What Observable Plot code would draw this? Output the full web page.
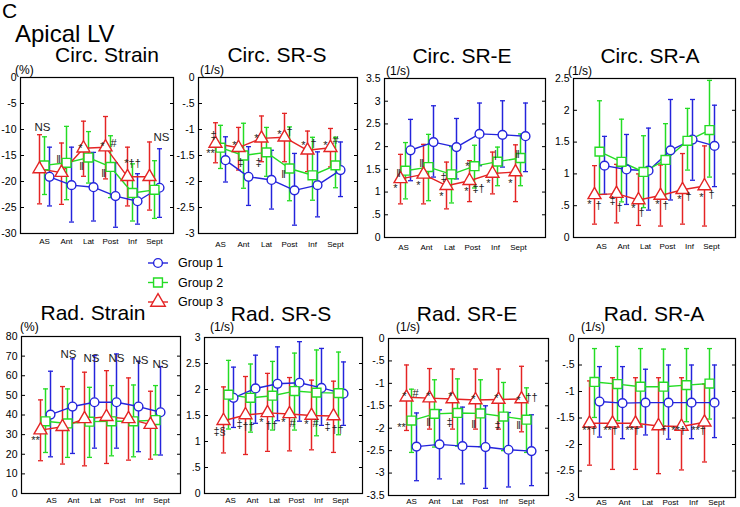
<!DOCTYPE html>
<html><head><meta charset="utf-8">
<script src="https://cdn.jsdelivr.net/npm/d3@7"></script>
<script src="https://cdn.jsdelivr.net/npm/@observablehq/plot@0.6"></script>
<style>
body{margin:0;background:#fff;}
#wrap{position:relative;width:740px;height:507px;overflow:hidden;font-family:Arial,"Liberation Sans",sans-serif;background:#fff;}
.t{position:absolute;white-space:nowrap;color:#000;}
#wrap svg{position:absolute;}
</style></head><body><div id="wrap"></div>
<script>
// ---------- categories ----------
const segments = ["AS","Ant","Lat","Post","Inf","Sept"];
const groups = ["Group 1","Group 2","Group 3"];

// ---------- Circ. Strain (%) rows: Group1, Group2, Group3 ----------
const circStrainMean  = [[-19.1,-20.7,-21.1,-22.8,-23.8,-21.2],[-16.9,-16.4,-15.4,-17.2,-22.2,-21.6],[-17.6,-18.3,-13.6,-13.4,-19.1,-19.1]];
const circStrainUpper = [[-13.4,-13.4,-14.4,-16.4,-18.5,-13.7],[-11.4,-9.4,-10.4,-11.2,-16.6,-16.0],[-11.0,-12.6,-8.4,-7.5,-13.4,-12.4]];
const circStrainLower = [[-24.7,-27.8,-27.6,-28.8,-28.2,-26.9],[-22.5,-23.5,-20.3,-23.1,-27.6,-27.1],[-24.3,-24.4,-19.0,-19.5,-24.7,-25.5]];
const circStrainTicks = [0,-5,-10,-15,-20,-25,-30];
const circStrainNotes = [["AS",-9.6,"NS"],["Ant",-15.8,"‖"],["Lat",-13.1,"*"],["Lat",-17.2,"‖"],["Post",-12.6,"*"],["Post",-12.6,"#"],["Post",-18.5,"‖"],["Inf",-16.6,"*††"],["Sept",-11.5,"NS"]];

// ---------- Circ. SR-S (1/s) ----------
const circSRSMean  = [[-1.59,-1.91,-1.97,-2.17,-2.07,-1.78],[-1.35,-1.50,-1.44,-1.75,-1.88,-1.69],[-1.27,-1.35,-1.17,-1.15,-1.40,-1.35]];
const circSRSUpper = [[-1.14,-1.33,-1.40,-1.46,-1.43,-1.24],[-0.92,-0.88,-0.96,-0.95,-1.15,-1.15],[-0.87,-0.96,-0.74,-0.69,-1.03,-0.98]];
const circSRSLower = [[-2.01,-2.46,-2.53,-2.84,-2.68,-2.29],[-1.75,-2.13,-1.90,-2.37,-2.36,-2.12],[-1.64,-1.78,-1.62,-1.62,-1.81,-1.72]];
const circSRSTicks = [0,-0.5,-1,-1.5,-2,-2.5,-3];
const circSRSNotes = [["AS",-1.11,"‡"],["AS",-1.40,"**"],["Ant",-1.24,"*"],["Ant",-1.63,"‡"],["Lat",-1.11,"*"],["Lat",-1.64,"‡"],["Post",-1.03,"*"],["Post",-1.03,"†"],["Post",-1.86,"‖"],["Inf",-1.24,"*"],["Inf",-1.27,"†"],["Sept",-1.25,"*"],["Sept",-1.22,"#"]];

// ---------- Circ. SR-E (1/s) ----------
const circSREMean  = [[1.92,2.10,1.99,2.28,2.26,2.23],[1.47,1.55,1.39,1.57,1.67,1.75],[1.29,1.39,1.14,1.25,1.41,1.44]];
const circSREUpper = [[2.60,2.90,2.62,2.96,3.01,2.96],[2.09,2.27,2.00,2.03,1.99,2.28],[1.83,2.05,1.66,1.69,1.88,2.04]];
const circSRELower = [[1.25,1.33,1.29,1.58,1.55,1.45],[0.85,0.81,0.76,1.09,1.14,1.14],[0.74,0.74,0.63,0.79,0.96,0.79]];
const circSRETicks = [0,0.5,1,1.5,2,2.5,3,3.5];
const circSRENotes = [["AS",1.40,"‖"],["AS",1.14,"*"],["Ant",1.62,"‖"],["Ant",1.22,"*"],["Lat",1.33,"‡"],["Lat",0.97,"*"],["Post",1.62,"*"],["Post",1.09,"*"],["Post",1.07,"‡†"],["Inf",1.25,"*"],["Inf",1.82,"|"],["Sept",1.25,"*"],["Sept",1.83,"‖"]];

// ---------- Circ. SR-A (1/s) ----------
const circSRAMean  = [[1.13,1.07,1.05,1.37,1.54,1.44],[1.35,1.19,1.03,1.22,1.52,1.69],[0.67,0.69,0.59,0.66,0.75,0.81]];
const circSRAUpper = [[1.59,1.62,1.72,2.17,2.17,2.08],[2.15,1.86,1.60,1.79,2.03,2.47],[1.13,1.15,1.00,1.14,1.32,1.44]];
const circSRALower = [[0.68,0.52,0.43,0.59,0.90,0.80],[0.68,0.56,0.47,0.60,1.06,0.95],[0.21,0.23,0.19,0.18,0.21,0.18]];
const circSRATicks = [0,0.5,1,1.5,2,2.5];
const circSRANotes = [["AS",0.56,"*"],["AS",0.51,"†"],["Ant",0.59,"‡"],["Ant",0.48,"†"],["Lat",0.51,"*"],["Lat",0.40,"†"],["Post",0.56,"*"],["Post",0.51,"†"],["Inf",0.64,"*"],["Inf",0.64,"†"],["Sept",0.68,"*"],["Sept",0.67,"†"]];

// ---------- Rad. Strain (%) ----------
const radStrainMean  = [[40.2,44.3,46.5,46.5,44.3,41.4],[36.8,35.7,36.6,36.8,36.8,37.4],[32.3,34.0,38.0,39.1,38.0,35.1]];
const radStrainUpper = [[62.3,68.6,70.3,71.1,67.4,64.7],[53.3,53.3,54.1,55.0,55.3,55.0],[47.7,54.5,61.8,62.6,58.9,52.1]];
const radStrainLower = [[18.7,20.4,23.1,23.1,21.3,19.6],[20.9,18.4,18.4,19.2,18.7,19.7],[16.7,15.0,14.1,15.3,17.0,17.5]];
const radStrainTicks = [0,10,20,30,40,50,60,70,80];
const radStrainNotes = [["AS",28.6,"**"],["Ant",71.1,"NS"],["Lat",69.1,"NS"],["Post",69.1,"NS"],["Inf",67.7,"NS"],["Sept",66.0,"NS"]];

// ---------- Rad. SR-S (1/s) ----------
const radSRSMean  = [[1.84,2.02,2.11,2.13,2.03,1.92],[1.90,1.84,1.88,1.97,1.94,1.93],[1.40,1.51,1.55,1.53,1.50,1.49]];
const radSRSUpper = [[2.43,2.66,2.82,2.92,2.79,2.53],[2.56,2.49,2.54,2.70,2.76,2.72],[2.05,2.25,2.31,2.23,2.18,2.16]];
const radSRSLower = [[1.27,1.35,1.40,1.39,1.31,1.31],[1.24,1.18,1.22,1.22,1.11,1.13],[0.78,0.75,0.81,0.82,0.84,0.79]];
const radSRSTicks = [0,0.5,1,1.5,2,2.5,3];
const radSRSNotes = [["AS",1.19,"‡§"],["Ant",1.32,"‡"],["Ant",1.29,"††"],["Lat",1.42,"*"],["Lat",1.31,"††"],["Post",1.42,"*"],["Post",1.34,"#"],["Inf",1.38,"*"],["Inf",1.34,"#"],["Sept",1.29,"‡"],["Sept",1.24,"††"]];

// ---------- Rad. SR-E (1/s) ----------
const radSREMean  = [[-2.41,-2.36,-2.40,-2.42,-2.48,-2.51],[-1.83,-1.68,-1.66,-1.67,-1.74,-1.81],[-1.31,-1.33,-1.35,-1.37,-1.36,-1.35]];
const radSREUpper = [[-1.66,-1.59,-1.53,-1.50,-1.65,-1.70],[-1.13,-0.92,-0.90,-0.92,-0.98,-1.10],[-0.59,-0.67,-0.68,-0.68,-0.68,-0.62]];
const radSRELower = [[-3.17,-3.13,-3.24,-3.34,-3.31,-3.28],[-2.54,-2.42,-2.40,-2.41,-2.50,-2.54],[-2.05,-2.02,-2.02,-2.02,-2.02,-2.08]];
const radSRETicks = [0,-0.5,-1,-1.5,-2,-2.5,-3,-3.5];
const radSRENotes = [["AS",-1.22,"*"],["AS",-1.22,"#"],["AS",-1.91,"**"],["Ant",-1.22,"*"],["Ant",-1.87,"‖"],["Lat",-1.22,"*"],["Lat",-1.87,"‡"],["Post",-1.30,"*"],["Post",-1.91,"‖"],["Inf",-1.27,"*"],["Inf",-1.94,"‡"],["Sept",-1.31,"*"],["Sept",-1.31,"††"],["Sept",-1.94,"‖"]];

// ---------- Rad. SR-A (1/s) ----------
const radSRAMean  = [[-1.19,-1.22,-1.21,-1.21,-1.21,-1.21],[-0.82,-0.86,-0.91,-0.91,-0.88,-0.85],[-1.60,-1.60,-1.60,-1.65,-1.66,-1.58]];
const radSRAUpper = [[-0.53,-0.53,-0.58,-0.50,-0.50,-0.50],[-0.19,-0.15,-0.19,-0.20,-0.19,-0.19],[-0.80,-0.74,-0.74,-0.74,-0.74,-0.86]];
const radSRALower = [[-1.86,-1.89,-1.82,-1.90,-1.89,-1.87],[-1.49,-1.55,-1.65,-1.65,-1.57,-1.52],[-2.39,-2.47,-2.47,-2.55,-2.48,-2.33]];
const radSRATicks = [0,-0.5,-1,-1.5,-2,-2.5,-3];
const radSRANotes = [["AS",-1.74,"**†"],["Ant",-1.74,"**†"],["Lat",-1.74,"**†"],["Post",-1.74,"†"],["Inf",-1.74,"**†"],["Sept",-1.74,"**†"]];

// ---------- panel contents ----------
const panels = [
  {title:"Circ. Strain", unit:"(%)",   domain:[-30,0], ticks:circStrainTicks, mean:circStrainMean, upper:circStrainUpper, lower:circStrainLower, notes:circStrainNotes},
  {title:"Circ. SR-S",   unit:"(1/s)", domain:[-3,0],  ticks:circSRSTicks,    mean:circSRSMean,    upper:circSRSUpper,    lower:circSRSLower,    notes:circSRSNotes},
  {title:"Circ. SR-E",   unit:"(1/s)", domain:[0,3.5], ticks:circSRETicks,    mean:circSREMean,    upper:circSREUpper,    lower:circSRELower,    notes:circSRENotes},
  {title:"Circ. SR-A",   unit:"(1/s)", domain:[0,2.5], ticks:circSRATicks,    mean:circSRAMean,    upper:circSRAUpper,    lower:circSRALower,    notes:circSRANotes},
  {title:"Rad. Strain",  unit:"(%)",   domain:[0,80],  ticks:radStrainTicks,  mean:radStrainMean,  upper:radStrainUpper,  lower:radStrainLower,  notes:radStrainNotes},
  {title:"Rad. SR-S",    unit:"(1/s)", domain:[0,3],   ticks:radSRSTicks,     mean:radSRSMean,     upper:radSRSUpper,     lower:radSRSLower,     notes:radSRSNotes},
  {title:"Rad. SR-E",    unit:"(1/s)", domain:[-3.5,0],ticks:radSRETicks,     mean:radSREMean,     upper:radSREUpper,     lower:radSRELower,     notes:radSRENotes},
  {title:"Rad. SR-A",    unit:"(1/s)", domain:[-3,0],  ticks:radSRATicks,     mean:radSRAMean,     upper:radSRAUpper,     lower:radSRALower,     notes:radSRANotes}
];

// ---------- layout (pixels) ----------
const layout = [
  {frame:[20,173,77,233],  insetL:22, insetR:18, labelDx:0,  labelPad:5, titleX:107, titleY:47,  unitX:15,  unitY:66},
  {frame:[198,357,77,233], insetL:22, insetR:22, labelDx:0,  labelPad:8, titleX:277, titleY:47,  unitX:200, unitY:66},
  {frame:[384,545,78,237], insetL:21, insetR:25, labelDx:-2, labelPad:7, titleX:462, titleY:48,  unitX:386, unitY:67},
  {frame:[573,735,78,237], insetL:24, insetR:24, labelDx:2,  labelPad:6, titleX:650, titleY:48,  unitX:568, unitY:67},
  {frame:[21,180,336,493], insetL:22, insetR:23, labelDx:6,  labelPad:4, titleX:93,  titleY:305, unitX:20,  unitY:323},
  {frame:[204,362,337,493],insetL:22, insetR:22, labelDx:2,  labelPad:4, titleX:281, titleY:306, unitX:210, unitY:323},
  {frame:[388,548,338,495],insetL:22, insetR:22, labelDx:0,  labelPad:3, titleX:467, titleY:306, unitX:396, unitY:323},
  {frame:[578,735,338,497],insetL:15, insetR:26, labelDx:7,  labelPad:2, titleX:654, titleY:306, unitX:581, unitY:323}
];
const noteNudges = [
  [-2,-8,-8,-7,-8,3,-7,0,7],
  [-7,-10,-9,-3,-10,-8,-10,0,-6,-9,1,-10,0],
  [-7,-10,-7,-10,-8,-10,-7,-8,4,-9,-2,-10,-3],
  [-10,-1,-9,-2,-10,-2,-8,0,-8,1,-8,2],
  [-10,1,2,5,7,5],
  [-9,-11,-2,-11,-1,-11,-2,-10,-1,-11,-1],
  [-7,4,-10,-6,-6,-7,-8,-7,-7,-7,-6,-8,5,-8],
  [-5,-7,-8,0,-8,-11]
];

const colors = ["#2424dc", "#24dc24", "#e42424"];
const symbols = ["circle", "square", "triangle"];
const radii = [4.4, 5.0, 4.8];
const dodge = [5, 0, -5];
const FONT = "Arial, 'Liberation Sans', sans-serif";
// small horizontal cap used at the ends of error bars
const capSymbol = {draw(ctx, size) { const w = 2.5; ctx.moveTo(-w, 0); ctx.lineTo(w, 0); }};

const wrap = document.getElementById("wrap");
function addText(txt, x, capTop, size, center) {
  const d = document.createElement("div");
  d.className = "t";
  d.textContent = txt;
  d.style.fontSize = size + "px";
  d.style.lineHeight = size + "px";
  d.style.left = x + "px";
  d.style.top = (capTop - 0.13 * size) + "px";
  if (center) d.style.transform = "translateX(-50%)";
  wrap.appendChild(d);
}

const fmt = v => v === 0 ? "0" : String(+v.toFixed(2)).replace(/^(-?)0\./, "$1.");

addText("C", 2, 3, 21);
addText("Apical LV", 15, 25, 24);

panels.forEach((p, k) => {
  const L = layout[k];
  const [l, r, t, b] = L.frame;
  const mL = 34, mR = 8, mT = 8, mB = 14;
  const rows = [];
  for (let g = 0; g < 3; g++)
    for (let i = 0; i < segments.length; i++)
      rows.push({seg: segments[i], g, mean: p.mean[g][i], hi: p.upper[g][i], lo: p.lower[g][i]});

  const marks = [];
  for (let g = 0; g < 3; g++) {
    const d = rows.filter(o => o.g === g);
    marks.push(Plot.ruleX(d, {x: "seg", y1: "lo", y2: "hi", stroke: colors[g], strokeWidth: 1.5, dx: dodge[g]}));
    marks.push(Plot.dot(d, {x: "seg", y: "lo", symbol: capSymbol, stroke: colors[g], strokeWidth: 1.3, dx: dodge[g]}));
    marks.push(Plot.dot(d, {x: "seg", y: "hi", symbol: capSymbol, stroke: colors[g], strokeWidth: 1.3, dx: dodge[g]}));
  }
  for (let g = 0; g < 3; g++) {
    const d = rows.filter(o => o.g === g);
    marks.push(Plot.line(d, {x: "seg", y: "mean", stroke: colors[g], strokeWidth: 1.4, dx: dodge[g]}));
  }
  for (let g = 0; g < 3; g++) {
    const d = rows.filter(o => o.g === g);
    marks.push(Plot.dot(d, {x: "seg", y: "mean", symbol: symbols[g], r: radii[g], stroke: colors[g], fill: "white", strokeWidth: 1.4, dx: dodge[g]}));
  }
  p.notes.forEach((n, j) => {
    const stars = /^\*+$/.test(n[2]);
    const big = n[2] === "NS";
    marks.push(Plot.text([n], {x: d => d[0], y: d => d[1], text: d => d[2], dx: noteNudges[k][j], dy: stars ? 3 : 0,
      fontSize: big ? 11.5 : 11, fill: "#222"}));
  });
  marks.push(
    Plot.axisY(p.ticks, {tickSize: 0, tickPadding: 4, tickFormat: fmt, fontSize: 10.5, label: null}),
    Plot.axisY(p.ticks, {tickSize: -4, tickFormat: () => "", label: null}),
    Plot.axisY(p.ticks, {anchor: "right", tickSize: -4, tickFormat: () => "", label: null}),
    Plot.axisX(segments, {tickSize: 0, tickPadding: L.labelPad, fontSize: 8, dx: L.labelDx, label: null}),
    Plot.frame({stroke: "#000", strokeWidth: 1.2})
  );

  const svg = Plot.plot({
    width: (r - l) + mL + mR,
    height: (b - t) + mT + mB,
    marginLeft: mL, marginRight: mR, marginTop: mT, marginBottom: mB,
    style: {background: "transparent", overflow: "visible", fontFamily: FONT, color: "#000"},
    x: {type: "point", domain: segments, padding: 0, insetLeft: L.insetL, insetRight: L.insetR, label: null},
    y: {domain: p.domain, label: null},
    marks
  });
  svg.style.left = (l - mL) + "px";
  svg.style.top = (t - mT) + "px";
  wrap.appendChild(svg);

  addText(p.title, L.titleX, L.titleY, 21, true);
  addText(p.unit, L.unitX, L.unitY, 12);
});

// ---------- legend ----------
const leg = d3.create("svg").attr("width", 100).attr("height", 60)
  .style("left", "138px").style("top", "252px").style("overflow", "visible");
const legSymbols = [d3.symbolCircle, d3.symbolSquare, d3.symbolTriangle];
const legSizes = [Math.PI * 4.4 * 4.4, Math.PI * 25, Math.PI * 5.4 * 5.4];
groups.forEach((gname, g) => {
  const y = 11 + g * 19.5;
  leg.append("line").attr("x1", 10).attr("x2", 30).attr("y1", y).attr("y2", y)
    .attr("stroke", colors[g]).attr("stroke-width", 1.4);
  leg.append("path").attr("d", d3.symbol(legSymbols[g], legSizes[g])())
    .attr("transform", `translate(20,${y})`).attr("fill", "white").attr("stroke", colors[g]).attr("stroke-width", 1.4);
  leg.append("text").attr("x", 40).attr("y", y).attr("dy", "0.35em")
    .attr("font-family", FONT).attr("font-size", 12.5).text(gname);
});
wrap.appendChild(leg.node());
</script>
</body></html>
